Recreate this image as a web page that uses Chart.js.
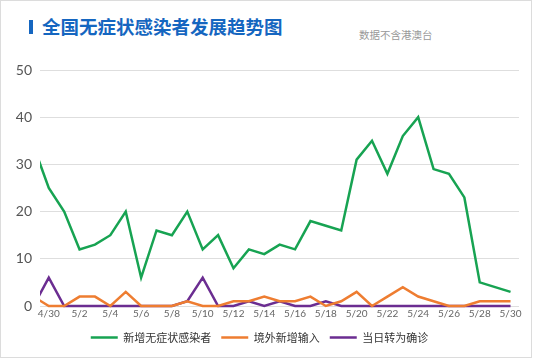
<!DOCTYPE html>
<html>
<head>
<meta charset="utf-8">
<script src="https://cdn.jsdelivr.net/npm/chart.js@4.4.0/dist/chart.umd.min.js"></script>
<style>
    body { margin: 0; background: #fff; font-family: "Noto Sans CJK SC", sans-serif; }
    #card { position: absolute; left: 0; top: 0; width: 530px; height: 356px; border: 1px solid #dcdcdc; }
    #bar { position: absolute; left: 29px; top: 20px; width: 4px; height: 14px; background: #1566c0; }
    #title { position: absolute; left: 42px; top: 14px; font-size: 18.5px; font-weight: bold; color: #1566c0; line-height: 24px; white-space: nowrap; }
    #sub { position: absolute; left: 359px; top: 28px; font-size: 10.5px; color: #999; line-height: 14px; white-space: nowrap; }
    #wrap { position: absolute; left: 0; top: 50px; width: 534px; height: 303px; }
</style>
</head>
<body>
<div id="card"></div>
<div id="bar"></div>
<div id="title">全国无症状感染者发展趋势图</div>
<div id="sub">数据不含港澳台</div>
<div id="wrap"><canvas id="chart"></canvas></div>
<script>
// 日期 (4/29 只露出一小段)
const dates = ['4/29', '4/30', '5/1', '5/2', '5/3', '5/4', '5/5', '5/6', '5/7', '5/8', '5/9', '5/10',
    '5/11', '5/12', '5/13', '5/14', '5/15', '5/16', '5/17', '5/18', '5/19', '5/20', '5/21',
    '5/22', '5/23', '5/24', '5/25', '5/26', '5/27', '5/28', '5/29', '5/30'];

// 新增无症状感染者
const newCases = [34, 25, 20, 12, 13, 15, 20, 6, 16, 15, 20, 12, 15, 8, 12, 11, 13, 12, 18, 17, 16,
    31, 35, 28, 36, 40, 29, 28, 23, 5, 4, 3];
// 境外新增输入
const imported = [2, 0, 0, 2, 2, 0, 3, 0, 0, 0, 1, 0, 0, 1, 1, 2, 1, 1, 2, 0, 1,
    3, 0, 2, 4, 2, 1, 0, 0, 1, 1, 1];
// 当日转为确诊
const confirmed = [0, 6, 0, 0, 0, 0, 0, 0, 0, 0, 1, 6, 0, 0, 1, 0, 1, 0, 0, 1, 0,
    0, 0, 0, 0, 0, 0, 0, 0, 0, 0, 0];

const yTicks = [0, 10, 20, 30, 40, 50];
const xTickIdx = [1, 3, 5, 7, 9, 11, 13, 15, 17, 19, 21, 23, 25, 27, 29, 31];

function toPoints(arr) {
    return arr.map((v, i) => ({ x: i, y: v }));
}

function makeSet(label, arr, color) {
    return {
        label: label,
        data: toPoints(arr),
        borderColor: color,
        backgroundColor: color,
        borderWidth: 2.5,
        pointRadius: 0,
        tension: 0,
        clip: { left: 0, right: 5, top: 5, bottom: 5 }
    };
}

const ctx = document.getElementById('chart').getContext('2d');
new Chart(ctx, {
    type: 'line',
    data: {
        datasets: [
            makeSet('新增无症状感染者', newCases, '#17a352'),
            makeSet('境外新增输入', imported, '#ee7d31'),
            makeSet('当日转为确诊', confirmed, '#6b2d91')
        ]
    },
    options: {
        responsive: true,
        maintainAspectRatio: false,
        animation: false,
        layout: { padding: { top: 20, right: 15, left: 0, bottom: 0 } },
        plugins: {
            tooltip: { enabled: false },
            legend: {
                position: 'bottom',
                labels: {
                    usePointStyle: true,
                    pointStyle: 'line',
                    pointStyleWidth: 27,
                    padding: 10,
                    color: '#333',
                    font: { size: 11, family: '"Noto Sans CJK SC", sans-serif' }
                }
            }
        },
        scales: {
            x: {
                type: 'linear',
                min: 0.43,
                max: 31.55,
                afterBuildTicks: function (scale) {
                    scale.ticks = xTickIdx.map(v => ({ value: v }));
                },
                ticks: {
                    autoSkip: false,
                    maxRotation: 0,
                    padding: 2,
                    color: '#666',
                    font: { size: 10, family: 'Lato, sans-serif' },
                    callback: function (value) { return dates[value]; }
                },
                grid: { display: false, drawTicks: false },
                border: { display: false }
            },
            y: {
                min: 0,
                max: 50,
                afterBuildTicks: function (scale) {
                    scale.ticks = yTicks.map(v => ({ value: v }));
                },
                afterFit: function (scale) { scale.width = 40; },
                ticks: {
                    padding: 8,
                    color: '#555',
                    font: { size: 14, family: 'Lato, sans-serif' }
                },
                grid: { color: '#dedede', drawTicks: false },
                border: { display: false }
            }
        }
    }
});
</script>
</body>
</html>
